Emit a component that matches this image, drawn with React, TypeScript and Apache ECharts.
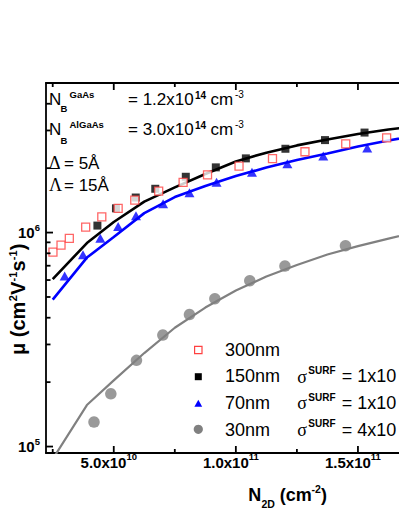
import React, { useEffect, useRef } from 'react';
import * as echarts from 'echarts';

// ---- axis ranges and ticks ----
const X_MIN = 2.225e10;
const X_MAX = 1.8e11;
const Y_MIN = 9.33e4;
const Y_MAX = 5.0e6;

const xMajorTicks = [5e10, 1e11, 1.5e11];
const xMinorTicks = [2.5e10, 7.5e10, 1.25e11, 1.75e11];
const yMajorTicks = [1e5, 1e6];
const yMinorTicks = [2e5, 3e5, 4e5, 5e5, 6e5, 7e5, 8e5, 9e5, 2e6, 3e6, 4e6];

// ---- measured data ----
const n300X = [2.51e10, 2.84e10, 3.18e10, 3.85e10, 4.51e10, 5.18e10, 5.86e10, 6.84e10, 7.84e10, 8.84e10, 1.013e11, 1.15e11, 1.283e11, 1.45e11, 1.6175e11];
const n300Y = [8.11e5, 8.74e5, 9.4e5, 1.061e6, 1.185e6, 1.298e6, 1.419e6, 1.563e6, 1.717e6, 1.861e6, 2.045e6, 2.217e6, 2.386e6, 2.597e6, 2.771e6];

const n150X = [4.33e10, 5.09e10, 5.9e10, 6.7e10, 7.95e10, 9.18e10, 1.041e11, 1.203e11, 1.365e11, 1.527e11];
const n150Y = [1.078e6, 1.298e6, 1.458e6, 1.602e6, 1.823e6, 2.017e6, 2.222e6, 2.464e6, 2.705e6, 2.933e6];

const n70X = [2.99e10, 3.74e10, 4.45e10, 5.18e10, 5.91e10, 7.02e10, 8.1e10, 9.21e10, 1.066e11, 1.211e11, 1.358e11, 1.538e11];
const n70Y = [6.26e5, 7.88e5, 9.4e5, 1.067e6, 1.197e6, 1.362e6, 1.535e6, 1.718e6, 1.913e6, 2.097e6, 2.278e6, 2.483e6];

const n30X = [4.19e10, 4.88e10, 5.93e10, 7.01e10, 8.1e10, 9.14e10, 1.057e11, 1.201e11, 1.449e11];
const n30Y = [1.302e5, 1.765e5, 2.528e5, 3.319e5, 4.14e5, 4.91e5, 5.955e5, 6.976e5, 8.68e5];

// ---- model curves ----
const fitX = [2.5e10, 3.9e10, 5e10, 6.25e10, 7.5e10, 8.75e10, 1e11, 1.125e11, 1.25e11, 1.375e11, 1.5e11, 1.625e11, 1.75e11];
const fit150 = [6.06e5, 8.93e5, 1.12e6, 1.396e6, 1.626e6, 1.877e6, 2.15e6, 2.363e6, 2.555e6, 2.725e6, 2.89e6, 3.03e6, 3.16e6];
const fit70 = [4.86e5, 7.64e5, 9.53e5, 1.233e6, 1.465e6, 1.65e6, 1.837e6, 2.012e6, 2.182e6, 2.34e6, 2.523e6, 2.692e6, 2.855e6];
const fit30 = [8.74e4, 1.563e5, 2.037e5, 2.735e5, 3.591e5, 4.462e5, 5.358e5, 6.229e5, 7.05e5, 7.893e5, 8.648e5, 9.376e5, 1.011e6];

const zip = (xs: number[], ys: number[]) => xs.map((x, i) => [x, ys[i]]);

const SANS = '"Liberation Sans", Arial, Helvetica, sans-serif';
const SERIF = '"Liberation Serif", "Times New Roman", serif';

type TO = { bold?: boolean; serif?: boolean; color?: string };
function txt(x: number, baseline: number, text: string, size: number, o: TO = {}) {
  return {
    type: 'text',
    x,
    y: baseline - (o.serif ? 0.338 : 0.3465) * size,
    silent: true,
    style: {
      text,
      fontSize: size,
      fontFamily: o.serif ? SERIF : SANS,
      fontWeight: o.bold ? 'bold' : 'normal',
      fill: o.color || '#000',
      align: 'left',
      verticalAlign: 'middle',
    },
  };
}

const fmtX = (v: number) => {
  const e = Math.floor(Math.log10(v) + 1e-9);
  const m = (v / Math.pow(10, e)).toFixed(1);
  return `{b|${m}x10}{s|${e}}`;
};
const fmtY = (v: number) => {
  const e = Math.round(Math.log10(v));
  return `{b|10}{s|${e}}`;
};

const richLab = {
  b: { fontSize: 15, fontWeight: 'bold', fontFamily: SANS, color: '#000', lineHeight: 17 },
  s: { fontSize: 9.5, fontWeight: 'bold', fontFamily: SANS, color: '#000', lineHeight: 11, padding: [0, 0, 11, 0] },
};

const axLine = { show: true, lineStyle: { color: '#000', width: 1.8 } };

// tick marks: [x, y, length, direction] (0 = left axis, 1 = bottom axis, 2 = top axis)
function buildTicks() {
  const t: number[][] = [];
  yMajorTicks.forEach((v) => t.push([X_MIN, v, 7, 0]));
  yMinorTicks.forEach((v) => t.push([X_MIN, v, 4.5, 0]));
  xMajorTicks.forEach((v) => { t.push([v, Y_MIN, 7, 1]); t.push([v, Y_MAX, 7, 2]); });
  xMinorTicks.forEach((v) => { t.push([v, Y_MIN, 4, 1]); t.push([v, Y_MAX, 4, 2]); });
  return t;
}

function buildOption() {
  const baseX = { type: 'value', min: X_MIN, max: X_MAX, splitLine: { show: false }, axisTick: { show: false } };
  const baseY = { type: 'log', logBase: 10, min: Y_MIN, max: Y_MAX, splitLine: { show: false }, axisTick: { show: false } };

  const legRows = [
    { b: 356, label: '300nm', sig: '' },
    { b: 382.7, label: '150nm', sig: '= 1x10' },
    { b: 409.3, label: '70nm', sig: '= 1x10' },
    { b: 436, label: '30nm', sig: '= 4x10' },
  ];
  const legendGraphics: any[] = [];
  legRows.forEach((r) => {
    legendGraphics.push(txt(225, r.b, r.label, 18));
    if (r.sig) {
      legendGraphics.push(txt(297.3, r.b, 'σ', 18, { serif: true }));
      legendGraphics.push(txt(308.3, r.b - 8.7, 'SURF', 10, { bold: true }));
      legendGraphics.push(txt(341.7, r.b, r.sig, 18));
    }
  });
  legendGraphics.push({ type: 'rect', shape: { x: 194.6, y: 346.3, width: 7.4, height: 7.4 }, style: { fill: '#fff', stroke: '#ff4040', lineWidth: 1.2 } });
  legendGraphics.push({ type: 'rect', shape: { x: 194.8, y: 373.2, width: 7, height: 7 }, style: { fill: '#000' } });
  legendGraphics.push({ type: 'polygon', shape: { points: [[194.4, 406.8], [202.2, 406.8], [198.3, 399.8]] }, style: { fill: '#0000ff' } });
  legendGraphics.push({ type: 'circle', shape: { cx: 198.3, cy: 429.3, r: 4.6 }, style: { fill: '#808080' } });

  const annot = [
    txt(49, 105.5, 'N', 17),
    txt(60.5, 111.7, 'B', 9.5, { bold: true }),
    txt(69.5, 97.3, 'GaAs', 9.5, { bold: true }),
    txt(128, 105.5, '= 1.2x10', 17),
    txt(195, 98.5, '14', 10, { bold: true }),
    txt(210.5, 105.5, 'cm', 17),
    txt(235, 97.5, '-3', 10),

    txt(49, 135.5, 'N', 17),
    txt(60.5, 143.3, 'B', 9.5, { bold: true }),
    txt(69.5, 128, 'AlGaAs', 9.5, { bold: true }),
    txt(128, 135.5, '= 3.0x10', 17),
    txt(195, 128.5, '14', 10, { bold: true }),
    txt(210.5, 135.5, 'cm', 17),
    txt(235, 127.5, '-3', 10),

    txt(49, 169.5, 'Δ', 18, { serif: true }),
    txt(64, 169.5, '= 5Å', 17),
    txt(49, 191.5, 'Λ', 18, { serif: true }),
    txt(64, 191.5, '= 15Å', 17),
  ];

  const xTitle = [
    txt(248.3, 501, 'N', 18, { bold: true }),
    txt(261.5, 508, '2D', 10.5, { bold: true }),
    txt(274.7, 501, ' (cm', 18, { bold: true }),
    txt(311.5, 492.5, '-2', 10.5, { bold: true }),
    txt(321, 501, ')', 18, { bold: true }),
  ];
  const yTitle = {
    type: 'group',
    x: 25,
    y: 355,
    rotation: Math.PI / 2,
    children: [
      txt(0, 0, 'μ (cm', 20, { bold: true }),
      txt(53.8, -8, '2', 11, { bold: true }),
      txt(60, 0, 'V', 20, { bold: true }),
      txt(73.5, -8, '-1', 11, { bold: true }),
      txt(83.5, 0, 's', 20, { bold: true }),
      txt(94.8, -8, '-1', 11, { bold: true }),
      txt(104.8, 0, ')', 20, { bold: true }),
    ],
  };

  return {
    animation: false,
    backgroundColor: '#fff',
    grid: { left: 46, top: 83, width: 385.2, height: 370, containLabel: false, outerBoundsMode: 'none' },
    xAxis: [
      {
        ...baseX,
        position: 'bottom',
        axisLine: axLine,
        axisLabel: { show: true, customValues: xMajorTicks, formatter: fmtX, margin: 0.5, padding: [0, 10, 0, 0], rich: richLab },
      },
      {
        ...baseX,
        position: 'top',
        axisLine: axLine,
        axisLabel: { show: false },
      },
    ],
    yAxis: [
      {
        ...baseY,
        position: 'left',
        axisLine: axLine,
        axisLabel: { show: true, customValues: yMajorTicks, formatter: fmtY, margin: 6, align: 'right', rich: richLab },
      },
    ],
    series: [
      {
        type: 'custom',
        name: 'ticks',
        coordinateSystem: 'cartesian2d',
        xAxisIndex: 0,
        yAxisIndex: 0,
        clip: false,
        silent: true,
        z: 10,
        data: buildTicks(),
        encode: { x: 0, y: 1 },
        renderItem: (params: any, api: any) => {
          const p = api.coord([api.value(0), api.value(1)]);
          const len = api.value(2);
          const dir = api.value(3);
          let x2 = p[0];
          let y2 = p[1];
          if (dir === 0) x2 = p[0] + len;
          else if (dir === 1) y2 = p[1] - len;
          else y2 = p[1] + len;
          return {
            type: 'line',
            shape: { x1: p[0], y1: p[1], x2, y2 },
            style: { stroke: '#000', lineWidth: 1.8 },
          };
        },
      },
      { type: 'line', name: 'model 30nm', data: zip(fitX, fit30), showSymbol: false, symbol: 'none', lineStyle: { color: '#808080', width: 2.2 }, z: 2, silent: true },
      { type: 'line', name: 'model 70nm', data: zip(fitX, fit70), showSymbol: false, symbol: 'none', lineStyle: { color: '#0000ff', width: 2.6 }, z: 2, silent: true },
      { type: 'line', name: 'model 150nm', data: zip(fitX, fit150), showSymbol: false, symbol: 'none', lineStyle: { color: '#000', width: 2.6 }, z: 2, silent: true },
      { type: 'scatter', name: '30nm', data: zip(n30X, n30Y), symbol: 'circle', symbolSize: 11.5, itemStyle: { color: '#808080' }, z: 3 },
      { type: 'scatter', name: '70nm', data: zip(n70X, n70Y), symbol: 'triangle', symbolSize: [10, 9], itemStyle: { color: '#0000ff' }, z: 4 },
      { type: 'scatter', name: '150nm', data: zip(n150X, n150Y), symbol: 'rect', symbolSize: 8, itemStyle: { color: '#000' }, z: 5 },
      { type: 'scatter', name: '300nm', data: zip(n300X, n300Y), symbol: 'rect', symbolSize: 8, itemStyle: { color: '#fff', borderColor: '#ff4040', borderWidth: 1.3 }, z: 6 },
    ],
    graphic: [...annot, ...legendGraphics, ...xTitle, yTitle],
  };
}

export default function App() {
  const ref = useRef<HTMLDivElement>(null);
  useEffect(() => {
    if (!ref.current) return;
    const chart = echarts.init(ref.current, null, { renderer: 'svg' });
    chart.setOption(buildOption() as any);
    return () => chart.dispose();
  }, []);
  return (
    <div
      ref={ref}
      style={{ position: 'fixed', left: 0, top: 0, width: 399, height: 516, background: '#fff' }}
    />
  );
}
